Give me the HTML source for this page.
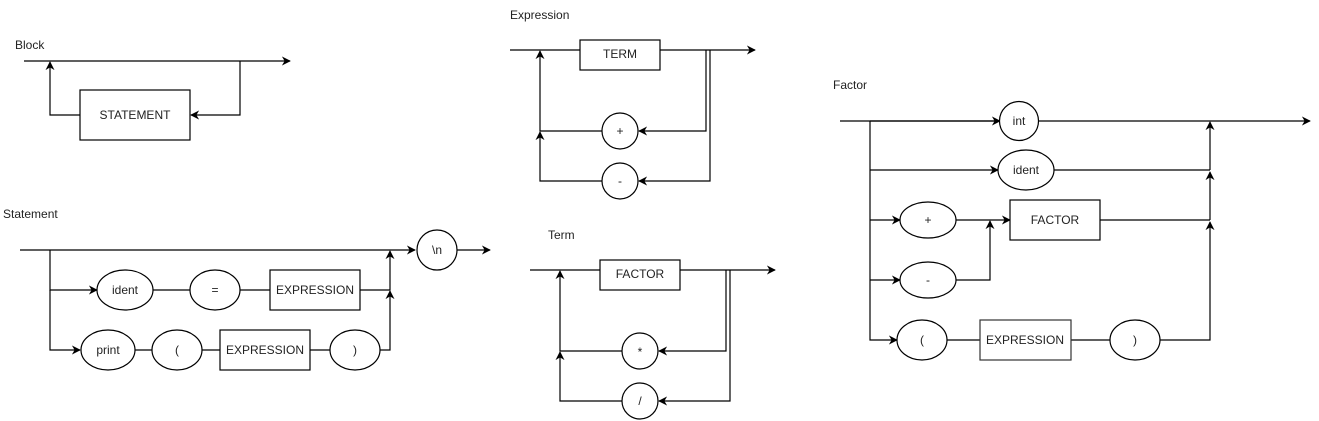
<!DOCTYPE html>
<html><head><meta charset="utf-8"><style>
html,body{margin:0;padding:0;background:#fff;}
svg{display:block;}
text{font-family:"Liberation Sans",Arial,sans-serif;font-size:12px;fill:#222;}
</style></head><body>
<svg width="1319" height="421" viewBox="0 0 1319 421" xmlns="http://www.w3.org/2000/svg">
<defs>
<marker id="a" viewBox="0 0 10 10" refX="9" refY="5" markerWidth="9" markerHeight="9" orient="auto" markerUnits="userSpaceOnUse">
<path d="M0,0 L10,5 L0,10 L3,5 z" fill="#000"/></marker>
</defs>
<g fill="none" stroke="#000" stroke-width="1.2">
<!-- Block -->
<path d="M24,61 H290" marker-end="url(#a)"/>
<path d="M80,115 H50 V62" marker-end="url(#a)"/>
<path d="M240,61 V115 H191" marker-end="url(#a)"/>
<rect x="80" y="90" width="110" height="50" fill="#fff"/>
<!-- Statement -->
<path d="M20,250 H415" marker-end="url(#a)"/>
<path d="M457,250 H490" marker-end="url(#a)"/>
<path d="M50,250 V290 H97" marker-end="url(#a)"/>
<path d="M50,290 V350 H80" marker-end="url(#a)"/>
<path d="M152,290 H190 M240,290 H270 M360,290 H390 V251" marker-end="url(#a)"/>
<path d="M135,350 H152 M202,350 H220 M310,350 H330 M380,350 H390 V291" marker-end="url(#a)"/>
<circle cx="437" cy="250" r="20" fill="#fff"/>
<ellipse cx="125" cy="290" rx="28" ry="20" fill="#fff"/>
<ellipse cx="215" cy="290" rx="25" ry="20" fill="#fff"/>
<rect x="270" y="270" width="90" height="40" fill="#fff"/>
<ellipse cx="108" cy="350" rx="27" ry="20" fill="#fff"/>
<ellipse cx="177" cy="350" rx="25" ry="20" fill="#fff"/>
<rect x="220" y="330" width="90" height="40" fill="#fff"/>
<ellipse cx="355" cy="350" rx="25" ry="20" fill="#fff"/>
<!-- Expression -->
<path d="M510,50 H580"/>
<path d="M660,50 H755" marker-end="url(#a)"/>
<path d="M602,131 H540 V51" marker-end="url(#a)"/>
<path d="M602,181 H540 V132" marker-end="url(#a)"/>
<path d="M706,50 V131 H639" marker-end="url(#a)"/>
<path d="M710,50 V181 H639" marker-end="url(#a)"/>
<rect x="580" y="40" width="80" height="30" fill="#fff"/>
<circle cx="620" cy="131" r="18" fill="#fff"/>
<circle cx="620" cy="181" r="18" fill="#fff"/>
<!-- Term -->
<path d="M530,270 H600"/>
<path d="M680,270 H775" marker-end="url(#a)"/>
<path d="M622,351 H560 V271" marker-end="url(#a)"/>
<path d="M622,401 H560 V352" marker-end="url(#a)"/>
<path d="M726,270 V351 H659" marker-end="url(#a)"/>
<path d="M730,270 V401 H659" marker-end="url(#a)"/>
<rect x="600" y="260" width="80" height="30" fill="#fff"/>
<circle cx="640" cy="351" r="18" fill="#fff"/>
<circle cx="640" cy="401" r="18" fill="#fff"/>
<!-- Factor -->
<path d="M840,121 H1310" marker-end="url(#a)"/>
<path d="M870,121 H1000" marker-end="url(#a)"/>
<path d="M870,121 V340 H897" marker-end="url(#a)"/>
<path d="M870,170 H998" marker-end="url(#a)"/>
<path d="M870,220 H900" marker-end="url(#a)"/>
<path d="M870,280 H900" marker-end="url(#a)"/>
<path d="M956,220 H1010" marker-end="url(#a)"/>
<path d="M956,280 H990 V221" marker-end="url(#a)"/>
<path d="M1054,170 H1210 M1100,220 H1210 M947,340 H980 M1071,340 H1110 M1160,340 H1210 V222" marker-end="url(#a)"/>
<path d="M1210,220 V172" marker-end="url(#a)"/>
<path d="M1210,170 V122" marker-end="url(#a)"/>
<circle cx="1019" cy="121" r="19.5" fill="#fff"/>
<ellipse cx="1026" cy="170" rx="28" ry="20" fill="#fff"/>
<ellipse cx="928" cy="220" rx="28" ry="18" fill="#fff"/>
<ellipse cx="928" cy="280" rx="28" ry="18" fill="#fff"/>
<rect x="1010" y="200" width="90" height="40" fill="#fff"/>
<ellipse cx="922" cy="340" rx="25" ry="20" fill="#fff"/>
<rect x="980" y="320" width="91" height="40" fill="#fff" stroke="#333"/>
<ellipse cx="1135" cy="340" rx="25" ry="20" fill="#fff"/>
</g>
<g>
<text x="15" y="49">Block</text>
<text x="3" y="218">Statement</text>
<text x="510" y="19">Expression</text>
<text x="548" y="239">Term</text>
<text x="833" y="89">Factor</text>
</g>
<g text-anchor="middle">
<text x="135" y="119">STATEMENT</text>
<text x="437" y="254">\n</text>
<text x="125" y="294">ident</text>
<text x="215" y="294">=</text>
<text x="315" y="294">EXPRESSION</text>
<text x="108" y="354">print</text>
<text x="177" y="354">(</text>
<text x="265" y="354">EXPRESSION</text>
<text x="355" y="354">)</text>
<text x="620" y="58">TERM</text>
<text x="620" y="135">+</text>
<text x="620" y="185">-</text>
<text x="640" y="278">FACTOR</text>
<text x="640" y="356">*</text>
<text x="640" y="405">/</text>
<text x="1019" y="125">int</text>
<text x="1026" y="174">ident</text>
<text x="928" y="224">+</text>
<text x="928" y="284">-</text>
<text x="1055" y="224">FACTOR</text>
<text x="922" y="344">(</text>
<text x="1025" y="344">EXPRESSION</text>
<text x="1135" y="344">)</text>
</g>
</svg>
</body></html>
